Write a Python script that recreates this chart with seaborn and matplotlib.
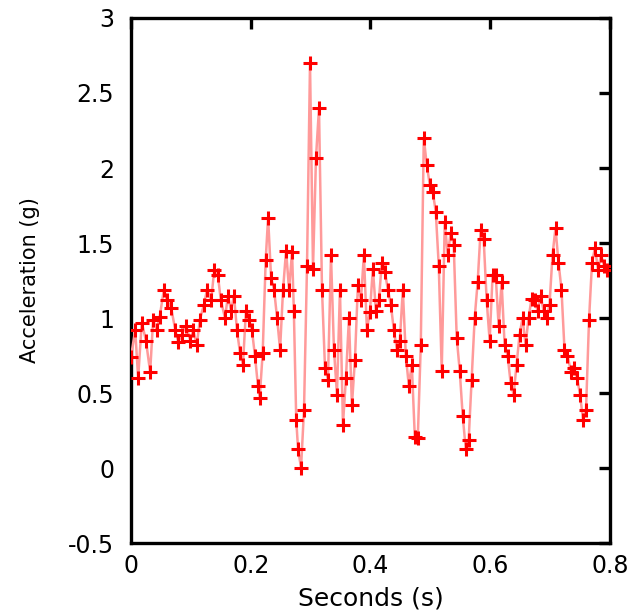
import numpy as np
import pandas as pd
import seaborn as sns
import matplotlib
matplotlib.use("Agg")
import matplotlib.pyplot as plt

# acceleration trace (seconds, g)
seconds = [
    0.000, 0.007, 0.012, 0.018, 0.025, 0.032, 0.037, 0.043, 0.048, 0.055,
    0.060, 0.067, 0.074, 0.079, 0.085, 0.092, 0.099, 0.104, 0.110, 0.115,
    0.122, 0.127, 0.134, 0.139, 0.145, 0.150, 0.157, 0.162, 0.167, 0.172,
    0.177, 0.182, 0.187, 0.192, 0.197, 0.202, 0.207, 0.212, 0.215, 0.220,
    0.225, 0.229, 0.234, 0.239, 0.244, 0.249, 0.254, 0.259, 0.264, 0.269,
    0.272, 0.276, 0.279, 0.284, 0.289, 0.294, 0.299, 0.304, 0.309, 0.314,
    0.319, 0.324, 0.329, 0.334, 0.339, 0.344, 0.349, 0.354, 0.359, 0.364,
    0.369, 0.374, 0.379, 0.384, 0.389, 0.394, 0.399, 0.404, 0.409, 0.414,
    0.419, 0.424, 0.429, 0.434, 0.439, 0.444, 0.449, 0.454, 0.459, 0.464,
    0.469, 0.474, 0.479, 0.484, 0.489, 0.494, 0.499, 0.504, 0.509, 0.514,
    0.519, 0.524, 0.529, 0.534, 0.539, 0.544, 0.549, 0.554, 0.559, 0.564,
    0.569, 0.574, 0.579, 0.584, 0.589, 0.594, 0.599, 0.604, 0.609, 0.614,
    0.619, 0.624, 0.629, 0.634, 0.639, 0.644, 0.649, 0.654, 0.659, 0.664,
    0.669, 0.674, 0.679, 0.684, 0.689, 0.694, 0.699, 0.704, 0.709, 0.714,
    0.719, 0.724, 0.729, 0.735, 0.740, 0.745, 0.750, 0.755, 0.760, 0.765,
    0.770, 0.775, 0.780, 0.785, 0.790, 0.795,
]
accel = [
    0.74, 0.92, 0.60, 0.97, 0.85, 0.64, 0.99, 0.92, 1.01, 1.19,
    1.12, 1.07, 0.92, 0.84, 0.89, 0.95, 0.85, 0.92, 0.82, 0.99,
    1.09, 1.19, 1.12, 1.32, 1.29, 1.12, 1.00, 1.15, 1.05, 1.15,
    0.92, 0.77, 0.69, 1.05, 0.99, 0.92, 0.75, 0.55, 0.47, 0.77,
    1.39, 1.67, 1.27, 1.19, 1.00, 0.79, 1.19, 1.45, 1.19, 1.44,
    1.05, 0.32, 0.13, 0.00, 0.39, 1.35, 2.70, 1.33, 2.07, 2.40,
    1.19, 0.67, 0.59, 1.42, 0.79, 0.49, 1.19, 0.29, 0.60, 1.00,
    0.42, 0.72, 1.22, 1.12, 1.42, 0.92, 1.04, 1.33, 1.05, 1.12,
    1.37, 1.31, 1.19, 1.09, 0.92, 0.79, 0.85, 1.19, 0.75, 0.55,
    0.69, 0.21, 0.20, 0.82, 2.20, 2.02, 1.89, 1.84, 1.71, 1.35,
    0.65, 1.64, 1.42, 1.57, 1.49, 0.87, 0.65, 0.35, 0.13, 0.19,
    0.59, 1.00, 1.24, 1.59, 1.53, 1.12, 0.85, 1.29, 1.29, 0.95,
    1.24, 0.82, 0.75, 0.57, 0.49, 0.69, 0.89, 1.00, 0.82, 1.00,
    1.13, 1.12, 1.05, 1.15, 1.05, 1.00, 1.09, 1.42, 1.60, 1.37,
    1.19, 0.79, 0.75, 0.64, 0.67, 0.60, 0.49, 0.32, 0.39, 0.99,
    1.37, 1.47, 1.32, 1.42, 1.35, 1.32,
]

x_ticks = [0, 0.2, 0.4, 0.6, 0.8]
x_tick_labels = ["0", "0.2", "0.4", "0.6", "0.8"]
y_ticks = [-0.5, 0, 0.5, 1, 1.5, 2, 2.5, 3]
y_tick_labels = ["-0.5", "0", "0.5", "1", "1.5", "2", "2.5", "3"]

df = pd.DataFrame({"seconds": seconds, "accel": accel})

sns.set_style("white")
plt.rcParams['font.family'] = ['DejaVu Sans']
plt.rcParams['text.color'] = 'black'
plt.rcParams['axes.labelcolor'] = 'black'
plt.rcParams['xtick.color'] = 'black'
plt.rcParams['ytick.color'] = 'black'

fig = plt.figure(figsize=(6.38, 6.10), dpi=100)
ax = fig.add_axes([0.2053, 0.1098, 0.7508, 0.8607])

sns.lineplot(data=df, x="seconds", y="accel", sort=False, ax=ax,
             color="#ff9a9a", linewidth=1.8, marker="+",
             markersize=10, markeredgewidth=2.2,
             markeredgecolor="red", markerfacecolor="red", zorder=3)

ax.set_xlim(0, 0.8)
ax.set_ylim(-0.5, 3)
ax.set_xticks(x_ticks)
ax.set_xticklabels(x_tick_labels, fontsize=17)
ax.set_yticks(y_ticks)
ax.set_yticklabels(y_tick_labels, fontsize=17)

for s in ax.spines.values():
    s.set_visible(True)
    s.set_color("black")
    s.set_linewidth(2.4)

ax.tick_params(axis="both", direction="in", length=8, width=2.4,
               top=True, right=True, color="black", labelcolor="black")
ax.tick_params(axis="y", pad=12)
ax.tick_params(axis="x", pad=8)

ax.set_xlabel("Seconds (s)", fontsize=18, labelpad=6)
ax.set_ylabel("Acceleration (g)", fontsize=15, labelpad=20)

fig.savefig("out.png", dpi=100)
